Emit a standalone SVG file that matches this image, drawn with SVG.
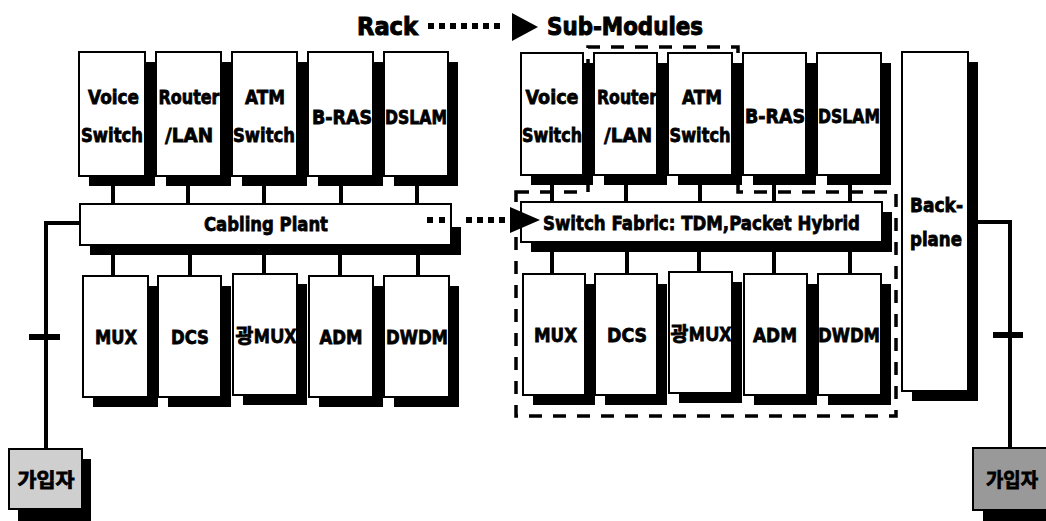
<svg xmlns="http://www.w3.org/2000/svg" width="1046" height="521" viewBox="0 0 1046 521">
<style>
.box{fill:#fff;stroke:#000;stroke-width:2}
.sh{fill:#000}
.t{font-family:"DejaVu Sans","Noto Sans CJK KR",sans-serif;font-weight:bold;font-size:19px;text-anchor:middle;fill:#000;stroke:#000;stroke-width:0.8px}
.tk{font-family:"Noto Sans CJK KR","DejaVu Sans",sans-serif;font-weight:bold;font-size:19px;text-anchor:middle;fill:#000;stroke:#000;stroke-width:0.8px}
.big{font-size:20px}
.title{font-size:24px;text-anchor:start;stroke-width:1px}
.conn{stroke:#000;stroke-width:4;fill:none}
.dash{stroke:#000;stroke-width:3.5;fill:none;stroke-dasharray:13 11}
.sub1{fill:#cfcfcf;stroke:#000;stroke-width:2}
.sub2{fill:#999;stroke:#000;stroke-width:2}
</style>
<rect width="1046" height="521" fill="#fff"/>

<!-- Title -->
<g id="title">
<text class="t title" x="357" y="35" textLength="61" lengthAdjust="spacingAndGlyphs">Rack</text>
<g fill="#000">
<rect x="428" y="23" width="6" height="6"/><rect x="439" y="23" width="6" height="6"/><rect x="450" y="23" width="6" height="6"/><rect x="461" y="23" width="6" height="6"/><rect x="472" y="23" width="6" height="6"/><rect x="483" y="23" width="6" height="6"/><rect x="494" y="23" width="6" height="6"/>
<polygon points="512,13 538,27 512,41"/>
</g>
<text class="t title" x="547" y="35" textLength="156" lengthAdjust="spacingAndGlyphs">Sub-Modules</text>
</g>

<!-- dashed sub-module region (under boxes) -->
<g id="submodule-region">
<path class="dash" d="M516,192 L588,192 L588,47 L738,47 L738,192 L896,192 L896,416 L516,416 Z"/>
</g>

<!-- connectors -->
<g id="connectors">
<g class="conn">
<line x1="113" y1="176" x2="113" y2="204"/><line x1="188" y1="176" x2="188" y2="204"/><line x1="264" y1="176" x2="264" y2="204"/><line x1="341" y1="176" x2="341" y2="204"/><line x1="417" y1="176" x2="417" y2="204"/>
<line x1="113" y1="245" x2="113" y2="276"/><line x1="190" y1="245" x2="190" y2="276"/><line x1="264" y1="245" x2="264" y2="276"/><line x1="340" y1="245" x2="340" y2="276"/><line x1="418" y1="245" x2="418" y2="276"/>
<line x1="552" y1="175" x2="552" y2="202"/><line x1="626" y1="175" x2="626" y2="202"/><line x1="700" y1="175" x2="700" y2="202"/><line x1="774" y1="175" x2="774" y2="202"/><line x1="850" y1="175" x2="850" y2="202"/>
<line x1="552" y1="242" x2="552" y2="274"/><line x1="627" y1="242" x2="627" y2="274"/><line x1="699" y1="242" x2="699" y2="274"/><line x1="774" y1="242" x2="774" y2="274"/><line x1="850" y1="242" x2="850" y2="274"/>
<polyline points="80,223 46,223 46,449"/>
<polyline points="968,222 1010,222 1010,448"/>
</g>
<line x1="29" y1="337" x2="60" y2="337" stroke="#000" stroke-width="6"/>
<line x1="993" y1="335" x2="1023" y2="335" stroke="#000" stroke-width="6"/>
</g>

<!-- Left rack top -->
<g id="l-voice"><rect class="sh" x="89" y="62" width="66" height="124"/><rect class="box" x="79" y="52" width="66" height="124"/>
<text class="t" x="113.5" y="104" textLength="51" lengthAdjust="spacingAndGlyphs">Voice</text><text class="t" x="112" y="142" textLength="62" lengthAdjust="spacingAndGlyphs">Switch</text></g>
<g id="l-router"><rect class="sh" x="166" y="62" width="65" height="124"/><rect class="box" x="156" y="52" width="65" height="124"/>
<text class="t" x="189" y="104" textLength="61" lengthAdjust="spacingAndGlyphs">Router</text><text class="t" x="189" y="142" textLength="48" lengthAdjust="spacingAndGlyphs">/LAN</text></g>
<g id="l-atm"><rect class="sh" x="242" y="62" width="65" height="124"/><rect class="box" x="232" y="52" width="65" height="124"/>
<text class="t" x="265" y="104" textLength="40" lengthAdjust="spacingAndGlyphs">ATM</text><text class="t" x="264" y="142" textLength="62" lengthAdjust="spacingAndGlyphs">Switch</text></g>
<g id="l-bras"><rect class="sh" x="318" y="62" width="65" height="124"/><rect class="box" x="308" y="52" width="65" height="124"/>
<text class="t" x="342" y="124" textLength="60" lengthAdjust="spacingAndGlyphs">B-RAS</text></g>
<g id="l-dslam"><rect class="sh" x="394" y="62" width="64" height="124"/><rect class="box" x="384" y="52" width="64" height="124"/>
<text class="t" x="416" y="124" textLength="62" lengthAdjust="spacingAndGlyphs">DSLAM</text></g>

<!-- Cabling plant -->
<g id="cabling-plant"><rect class="sh" x="90" y="214" width="371" height="41"/><rect class="box" x="80" y="204" width="371" height="41"/>
<text class="t big" x="266" y="231" textLength="124" lengthAdjust="spacingAndGlyphs">Cabling Plant</text></g>

<!-- Left rack bottom -->
<g id="l-mux"><rect class="sh" x="93" y="286" width="65" height="121"/><rect class="box" x="83" y="276" width="65" height="121"/>
<text class="t" x="116" y="344" textLength="42" lengthAdjust="spacingAndGlyphs">MUX</text></g>
<g id="l-dcs"><rect class="sh" x="168" y="286" width="63" height="121"/><rect class="box" x="158" y="276" width="63" height="121"/>
<text class="t" x="190" y="344" textLength="38" lengthAdjust="spacingAndGlyphs">DCS</text></g>
<g id="l-omux"><rect class="sh" x="243" y="284" width="64" height="121"/><rect class="box" x="233" y="274" width="64" height="121"/>
<text class="tk" x="266" y="343" textLength="61" lengthAdjust="spacingAndGlyphs">광MUX</text></g>
<g id="l-adm"><rect class="sh" x="319" y="286" width="64" height="121"/><rect class="box" x="309" y="276" width="64" height="121"/>
<text class="t" x="341" y="344" textLength="43" lengthAdjust="spacingAndGlyphs">ADM</text></g>
<g id="l-dwdm"><rect class="sh" x="394" y="286" width="65" height="121"/><rect class="box" x="384" y="276" width="65" height="121"/>
<text class="t" x="417" y="344" textLength="62" lengthAdjust="spacingAndGlyphs">DWDM</text></g>

<!-- dotted arrow to switch fabric -->
<g id="arrow2">
<rect x="452" y="213" width="12" height="14" fill="#fff"/>
<g fill="#000"><rect x="427" y="217" width="6" height="6"/><rect x="439" y="217" width="6" height="6"/><rect x="466" y="217" width="6" height="6"/><rect x="477" y="217" width="6" height="6"/><rect x="488" y="217" width="6" height="6"/><rect x="499" y="217" width="6" height="6"/></g>
</g>

<!-- Right rack top -->
<g id="r-voice"><rect class="sh" x="531" y="63" width="62" height="122"/><rect class="box" x="521" y="53" width="62" height="122"/>
<text class="t" x="552" y="104" textLength="53" lengthAdjust="spacingAndGlyphs">Voice</text><text class="t" x="552" y="142" textLength="60" lengthAdjust="spacingAndGlyphs">Switch</text></g>
<g id="r-router"><rect class="sh" x="604" y="63" width="63" height="122"/><rect class="box" x="594" y="53" width="63" height="122"/>
<text class="t" x="627" y="104" textLength="60" lengthAdjust="spacingAndGlyphs">Router</text><text class="t" x="628" y="142" textLength="48" lengthAdjust="spacingAndGlyphs">/LAN</text></g>
<g id="r-atm"><rect class="sh" x="678" y="63" width="64" height="122"/><rect class="box" x="668" y="53" width="64" height="122"/>
<text class="t" x="702" y="104" textLength="40" lengthAdjust="spacingAndGlyphs">ATM</text><text class="t" x="700" y="142" textLength="61" lengthAdjust="spacingAndGlyphs">Switch</text></g>
<g id="r-bras"><rect class="sh" x="753" y="63" width="63" height="122"/><rect class="box" x="743" y="53" width="63" height="122"/>
<text class="t" x="775" y="123" textLength="60" lengthAdjust="spacingAndGlyphs">B-RAS</text></g>
<g id="r-dslam"><rect class="sh" x="827" y="63" width="64" height="122"/><rect class="box" x="817" y="53" width="64" height="122"/>
<text class="t" x="849" y="123" textLength="62" lengthAdjust="spacingAndGlyphs">DSLAM</text></g>

<!-- Switch fabric -->
<g id="switch-fabric"><rect class="sh" x="531" y="212" width="361" height="40"/><rect class="box" x="521" y="202" width="361" height="40"/>
<text class="t big" x="701.5" y="230" textLength="317" lengthAdjust="spacingAndGlyphs">Switch Fabric: TDM,Packet Hybrid</text></g>
<polygon points="510,207 540,220 510,233" fill="#000"/>

<!-- Right rack bottom -->
<g id="r-mux"><rect class="sh" x="533" y="284" width="62" height="121"/><rect class="box" x="523" y="274" width="62" height="121"/>
<text class="t" x="555.5" y="342" textLength="43" lengthAdjust="spacingAndGlyphs">MUX</text></g>
<g id="r-dcs"><rect class="sh" x="605" y="284" width="62" height="121"/><rect class="box" x="595" y="274" width="62" height="121"/>
<text class="t" x="627" y="342" textLength="40" lengthAdjust="spacingAndGlyphs">DCS</text></g>
<g id="r-omux"><rect class="sh" x="679" y="282" width="63" height="121"/><rect class="box" x="669" y="272" width="63" height="121"/>
<text class="tk" x="701" y="341" textLength="61" lengthAdjust="spacingAndGlyphs">광MUX</text></g>
<g id="r-adm"><rect class="sh" x="754" y="284" width="63" height="121"/><rect class="box" x="744" y="274" width="63" height="121"/>
<text class="t" x="775" y="342" textLength="44" lengthAdjust="spacingAndGlyphs">ADM</text></g>
<g id="r-dwdm"><rect class="sh" x="828" y="284" width="63" height="121"/><rect class="box" x="818" y="274" width="63" height="121"/>
<text class="t" x="849" y="342" textLength="62" lengthAdjust="spacingAndGlyphs">DWDM</text></g>

<!-- Backplane -->
<g id="backplane"><rect class="sh" x="912" y="62" width="66" height="339"/><rect class="box" x="902" y="52" width="66" height="339"/>
<text class="t" x="936.5" y="212" textLength="53" lengthAdjust="spacingAndGlyphs">Back-</text><text class="t" x="936" y="246" textLength="52" lengthAdjust="spacingAndGlyphs">plane</text></g>

<!-- Subscribers -->
<g id="subscriber-left"><rect class="sh" x="18" y="459" width="73" height="62"/><rect class="sub1" x="9" y="449" width="73" height="60"/>
<text class="tk" x="46" y="487" textLength="57" lengthAdjust="spacingAndGlyphs">가입자</text></g>
<g id="subscriber-right"><rect class="sh" x="983" y="458" width="73" height="63"/><rect class="sub2" x="973" y="448" width="80" height="62"/>
<text class="tk" x="1012" y="487" textLength="52" lengthAdjust="spacingAndGlyphs">가입자</text></g>
</svg>
